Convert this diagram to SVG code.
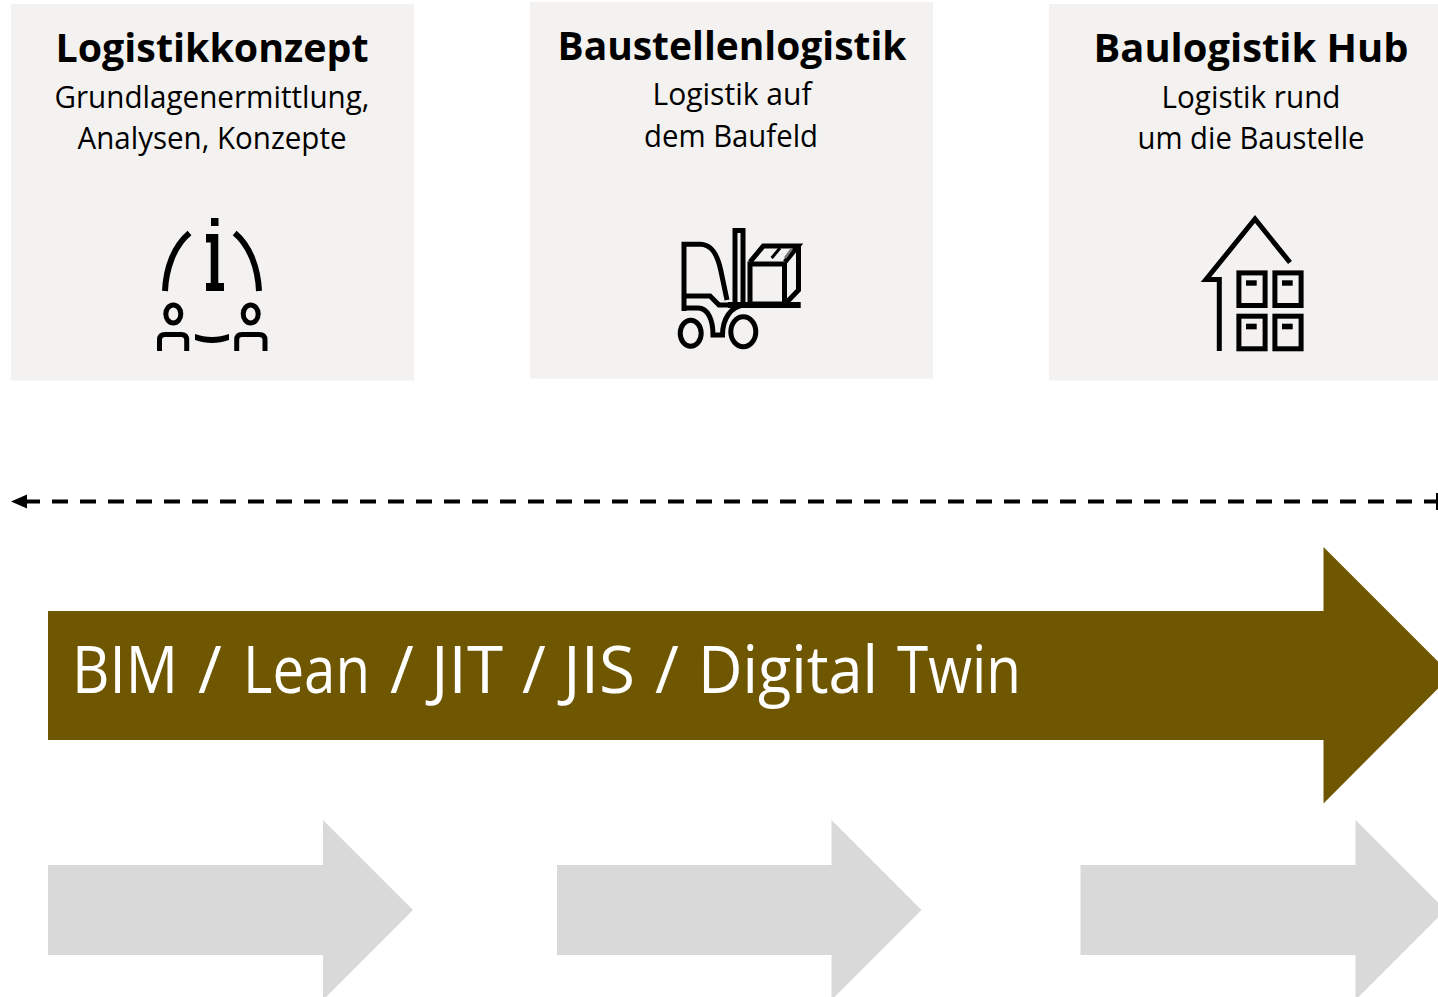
<svg xmlns="http://www.w3.org/2000/svg" width="1438" height="997" viewBox="0 0 1438 997">
<style>
text{font-family:"Open Sans","Noto Sans","Liberation Sans",sans-serif;text-anchor:middle;fill:#000}
.t{font-size:40px;font-weight:700}
.s{font-size:31px}
.p{fill:#f3f2f1}
.i{fill:none;stroke:#000;stroke-width:5}
.f{fill:#000}
.g{fill:#d9d9d9}
.b{font-size:65px;text-anchor:start;fill:#fff}
</style>
<defs>
<marker id="ah" markerUnits="userSpaceOnUse" markerWidth="16" markerHeight="16" refX="1" refY="8" orient="auto"><path d="M0 1L16 8L0 15Z" fill="#000"/></marker>
</defs>
<rect width="1438" height="997" fill="#fff"/>
<g id="node-logistikkonzept">
<rect class="p" x="11" y="4" width="403" height="376.500"/>
<text class="t" x="212" y="62" textLength="313" lengthAdjust="spacingAndGlyphs">Logistikkonzept</text>
<text class="s" x="212" y="108" textLength="315" lengthAdjust="spacingAndGlyphs">Grundlagenermittlung,</text>
<text class="s" x="212" y="149" textLength="269" lengthAdjust="spacingAndGlyphs">Analysen, Konzepte</text>
<g>
<rect class="f" x="211" y="218" width="7.500" height="8"/>
<path class="f" d="M206 234H218.300V283H224V291H206V283H210.700V242.500H206Z"/>
<path class="i" style="stroke-width:6" d="M189.500 233C174 246 166 268 165 291M234.700 233C250 246 258 268 259 291"/>
<ellipse class="i" cx="173.300" cy="314" rx="7.500" ry="9"/>
<ellipse class="i" cx="250.700" cy="314" rx="7.500" ry="9"/>
<path class="i" d="M159.500 351V340Q159.500 334.500 165 334.500H181Q186.700 334.500 186.700 340V351M236.700 351V340Q236.700 334.500 242 334.500H259Q265 334.500 265 340V351"/>
<path class="f" d="M195 334C206 338 218 338 229 334V340C218 344 206 344 195 340Z"/>
</g>
</g>
<g id="node-baustellenlogistik">
<rect class="p" x="530" y="2" width="403" height="376.500"/>
<text class="t" x="732" y="60" textLength="349" lengthAdjust="spacingAndGlyphs">Baustellenlogistik</text>
<text class="s" x="732" y="105" textLength="159" lengthAdjust="spacingAndGlyphs">Logistik auf</text>
<text class="s" x="731" y="147" textLength="174" lengthAdjust="spacingAndGlyphs">dem Baufeld</text>
<g class="i">
<path d="M684 311V244.300H700C711 244.300 717 253 720.700 270L727 300"/>
<path d="M684 296H710L719 305H728"/>
<path d="M684 308H698C708 308 713 320 713 335H722.500C722.500 320 730 306 745 305"/>
<ellipse cx="690.700" cy="333.300" rx="10.500" ry="13"/>
<ellipse cx="743.300" cy="331.700" rx="12.500" ry="15"/>
<rect x="735" y="230.500" width="8" height="74"/>
<path style="stroke-width:6" d="M728 305H800.700"/>
<rect x="750" y="264" width="34.500" height="40"/>
<path d="M750 262L763.300 246H798L785 262M798.500 245V290L787 302"/>
<path style="stroke-width:3" d="M771.700 258L780 248"/>
<path style="stroke-width:2.500;stroke:#777" d="M785 258L791.700 249"/>
</g>
</g>
<g id="node-baulogistik-hub">
<rect class="p" x="1049" y="4" width="389" height="376.500"/>
<text class="t" x="1251" y="62" textLength="315" lengthAdjust="spacingAndGlyphs">Baulogistik Hub</text>
<text class="s" x="1251" y="108" textLength="179" lengthAdjust="spacingAndGlyphs">Logistik rund</text>
<text class="s" x="1251" y="149" textLength="227" lengthAdjust="spacingAndGlyphs">um die Baustelle</text>
<g class="i">
<path style="stroke-width:5" d="M1290 262.500L1255 219L1206 279.500H1219.300V351"/>
<rect x="1238.900" y="272.900" width="26.200" height="32.600"/>
<rect x="1274.900" y="272.900" width="26.200" height="32.600"/>
<rect x="1238.900" y="316.200" width="26.200" height="32.600"/>
<rect x="1274.900" y="316.200" width="26.200" height="32.600"/>
</g>
<rect class="f" x="1246" y="280.300" width="10.700" height="5.400"/>
<rect class="f" x="1282" y="280.300" width="10.700" height="5.400"/>
<rect class="f" x="1246" y="323.700" width="10.700" height="5.600"/>
<rect class="f" x="1282" y="323.700" width="10.700" height="5.600"/>
</g>
<g id="connectors">
<path d="M1438 501.500H26" fill="none" stroke="#000" stroke-width="4" stroke-dasharray="16 12" stroke-dashoffset="2" marker-end="url(#ah)"/>
<path d="M1437 493V510" fill="none" stroke="#000" stroke-width="2"/>
</g>
<g id="node-methoden">
<path fill="#6f5600" d="M48 611H1323.500V547L1451.500 675L1323.500 803.500V740H48Z"/>
<text class="b" y="693"><tspan x="72" textLength="106" lengthAdjust="spacingAndGlyphs">BIM</tspan> <tspan x="198">/</tspan> <tspan x="243" textLength="127" lengthAdjust="spacingAndGlyphs">Lean</tspan> <tspan x="390">/</tspan> <tspan x="431" textLength="72" lengthAdjust="spacingAndGlyphs">JIT</tspan> <tspan x="522">/</tspan> <tspan x="563" textLength="72" lengthAdjust="spacingAndGlyphs">JIS</tspan> <tspan x="655">/</tspan> <tspan x="698" textLength="180" lengthAdjust="spacingAndGlyphs">Digital</tspan> <tspan x="897" textLength="124" lengthAdjust="spacingAndGlyphs">Twin</tspan></text>
</g>
<g id="node-pfeil-1"><path class="g" d="M48 865H323V820L413 910L323 1000V955H48Z"/></g>
<g id="node-pfeil-2"><path class="g" d="M557 865H831.500V820L921.500 910L831.500 1000V955H557Z"/></g>
<g id="node-pfeil-3"><path class="g" d="M1080.500 865H1355.500V820L1445.500 910L1355.500 1000V955H1080.500Z"/></g>
</svg>
